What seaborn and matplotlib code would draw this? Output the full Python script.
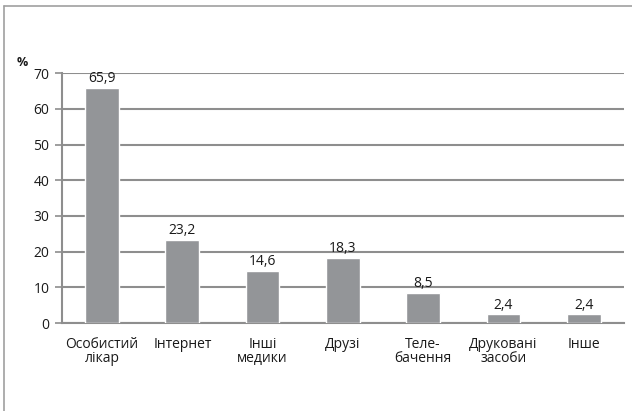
# ----- libraries
import matplotlib
matplotlib.use("Agg")
import matplotlib.pyplot as plt
from matplotlib.lines import Line2D
import pandas as pd
import seaborn as sns

# ----- data
categories = ["Особистий\nлікар", "Інтернет", "Інші\nмедики", "Друзі",
              "Теле-\nбачення", "Друковані\nзасоби", "Інше"]
values = [65.9, 23.2, 14.6, 18.3, 8.5, 2.4, 2.4]
value_labels = ["65,9", "23,2", "14,6", "18,3", "8,5", "2,4", "2,4"]
y_ticks = [0, 10, 20, 30, 40, 50, 60, 70]

# ----- style
sns.set_style("white")
plt.rcParams['font.family'] = ['Open Sans', 'DejaVu Sans']
grid_col = "#8e8e8e"
bar_col = "#939598"

fig = plt.figure(figsize=(6.32, 4.11), dpi=100)
ax = fig.add_axes([0.098, 0.214, 0.889, 0.608])

df = pd.DataFrame({"cat": categories, "val": values})
sns.barplot(data=df, x="cat", y="val", color=bar_col, width=0.42,
            saturation=1, ax=ax, zorder=3)

ax.set_ylim(0, 70)
ax.set_xlim(-0.5, len(categories) - 0.5)
ax.set_yticks(y_ticks)
ax.set_yticklabels([str(t) for t in y_ticks], fontsize=10, color="#1a1a1a")
ax.yaxis.grid(True, color=grid_col, linewidth=1.5, zorder=0)
ax.set_axisbelow(True)

# category ticks sit between the bars
ax.set_xticks(range(len(categories)))
ax.set_xticklabels(categories, fontsize=10, color="#1a1a1a", linespacing=0.9)
ax.tick_params(axis="x", length=0, pad=10)
ax.set_xticks([i - 0.5 for i in range(len(categories) + 1)], minor=True)
ax.tick_params(axis="x", which="minor", length=4, color=grid_col, width=1.2,
               direction="out")
ax.tick_params(axis="y", length=5, color=grid_col, width=1.2, direction="out",
               left=True, pad=4)
ax.set_xlabel("")
ax.set_ylabel("")

for s in ["top", "right"]:
    ax.spines[s].set_visible(False)
for s in ["left", "bottom"]:
    ax.spines[s].set_color(grid_col)
    ax.spines[s].set_linewidth(1.5)

# value labels above bars
for i, (v, lab) in enumerate(zip(values, value_labels)):
    ax.text(i, v + 0.5, lab, ha="center", va="bottom", fontsize=10,
            color="#1a1a1a")

fig.text(0.027, 0.84, "%", fontsize=9, fontweight="bold", color="#1a1a1a")

# frame lines (top and left only visible)
fig.add_artist(Line2D([0.006, 1.0], [0.985, 0.985], color="#a0a0a0",
                      linewidth=1.2, transform=fig.transFigure))
fig.add_artist(Line2D([0.006, 0.006], [0.0, 0.985], color="#a0a0a0",
                      linewidth=1.2, transform=fig.transFigure))

fig.savefig("out.png", dpi=100)
